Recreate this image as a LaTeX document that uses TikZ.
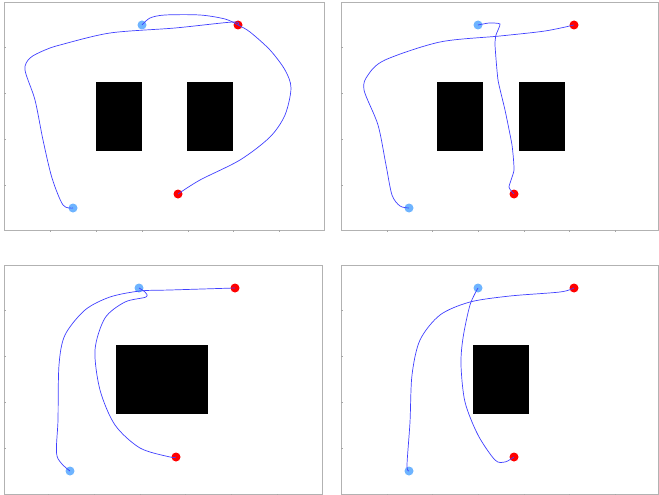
\documentclass[tikz,border=0pt]{standalone}
\begin{document}
\begin{tikzpicture}[x=1pt,y=-1pt,
  frame/.style={draw=black!30,line width=0.8pt},
  tick/.style={draw=black!35,line width=0.6pt},
  obst/.style={fill=black,draw=none},
  startpt/.style={circle,draw=none,minimum size=9pt,inner sep=0pt},
  goalpt/.style={circle,fill=red,draw=none,minimum size=9pt,inner sep=0pt},
  traj/.style={draw=blue!75!white,line width=0.7pt}]
\useasboundingbox (0,0) rectangle (659,495);
\definecolor{sblue}{RGB}{110,180,255}
\tikzset{startpt/.append style={fill=sblue}}
% ---------- frames ----------
\draw[frame] (4,2) rectangle (324,230);
\draw[frame] (341,2) rectangle (658.5,230);
\draw[frame] (4,265) rectangle (322,494);
\draw[frame] (341,265) rectangle (658.5,494);
% ticks panel 1
\foreach \y in {47,93,139,185} \draw[tick] (4,\y) -- (6,\y);
\foreach \x in {50,96,142,188,233,279} \draw[tick] (\x,230) -- (\x,232);
% ticks panel 2
\foreach \y in {47,93,139,185} \draw[tick] (341,\y) -- (343,\y);
\foreach \x in {387,432,478,524,569,615} \draw[tick] (\x,230) -- (\x,232);
% ticks panel 3
\foreach \y in {310,356,402,448} \draw[tick] (4,\y) -- (6,\y);
\foreach \x in {48,94,140,185,231,277} \draw[tick] (\x,494) -- (\x,495);
% ticks panel 4
\foreach \y in {310,356,402,448} \draw[tick] (341,\y) -- (343,\y);
\foreach \x in {387,432,478,524,569,615} \draw[tick] (\x,494) -- (\x,495);
% ---------- obstacles ----------
\fill[obst] (96,82) rectangle (142,151);
\fill[obst] (187,82) rectangle (233,151);
\fill[obst] (437,82) rectangle (483,151);
\fill[obst] (519,82) rectangle (565,151);
\fill[obst] (116,345) rectangle (208,414);
\fill[obst] (473,345) rectangle (529,414);
% ---------- panel 1 ----------
\node[startpt] (s1a) at (73,208) {};
\node[startpt] (s1b) at (142,25) {};
\node[goalpt] (g1a) at (238,25) {};
\node[goalpt] (g1b) at (178,194) {};
\draw[traj] plot[smooth,tension=0.5] coordinates {(s1a.center) (63,205) (52,178) (43,140) (35,100) (25,70) (30,58) (45,50) (60,45) (110,33) (175,28) (233,22) (g1a.center)};
\draw[traj] plot[smooth,tension=0.5] coordinates {(s1b.center) (150,18) (165,15) (200,15) (225,19) (238,25) (250,32) (270,50) (285,70) (291,88) (285,115) (270,137) (240,160) (200,180) (g1b.center)};
% ---------- panel 2 ----------
\node[startpt] (s2a) at (409,208) {};
\node[startpt] (s2b) at (478,25) {};
\node[goalpt] (g2a) at (574,25) {};
\node[goalpt] (g2b) at (514,194) {};
\draw[traj] plot[smooth,tension=0.5] coordinates {(s2a.center) (400,206) (392,195) (386,165) (378,125) (364,90) (368,75) (385,60) (440,42) (500,36) (545,31) (g2a.center)};
\draw[traj] plot[smooth,tension=0.3] coordinates {(s2b.center) (489,23) (500,24) (496,35) (495,45) (498,80) (505,110) (512,145) (514,170) (509,187) (g2b.center)};
% ---------- panel 3 ----------
\node[startpt] (s3a) at (70,471) {};
\node[startpt] (s3b) at (139,288) {};
\node[goalpt] (g3a) at (235,288) {};
\node[goalpt] (g3b) at (176,457) {};
\draw[traj] plot[smooth,tension=0.5] coordinates {(s3a.center) (57,456) (58,420) (59,365) (65,335) (85,310) (110,297) (140,291) (170,290) (g3a.center)};
\draw[traj] plot[smooth,tension=0.5] coordinates {(s3b.center) (145,292) (146,297) (125,302) (105,318) (95,350) (100,390) (115,425) (140,448) (170,457) (g3b.center)};
% ---------- panel 4 ----------
\node[startpt] (s4a) at (409,471) {};
\node[startpt] (s4b) at (478,288) {};
\node[goalpt] (g4a) at (574,288) {};
\node[goalpt] (g4b) at (514,457) {};
\draw[traj] plot[smooth,tension=0.5] coordinates {(s4a.center) (407,465) (410,422) (412,375) (420,340) (440,315) (470,302) (510,296) (560,292) (g4a.center)};
\draw[traj] plot[smooth,tension=0.5] coordinates {(s4b.center) (470,305) (463,338) (461,365) (465,402) (478,435) (495,460) (505,462) (g4b.center)};
\end{tikzpicture}
\end{document}
